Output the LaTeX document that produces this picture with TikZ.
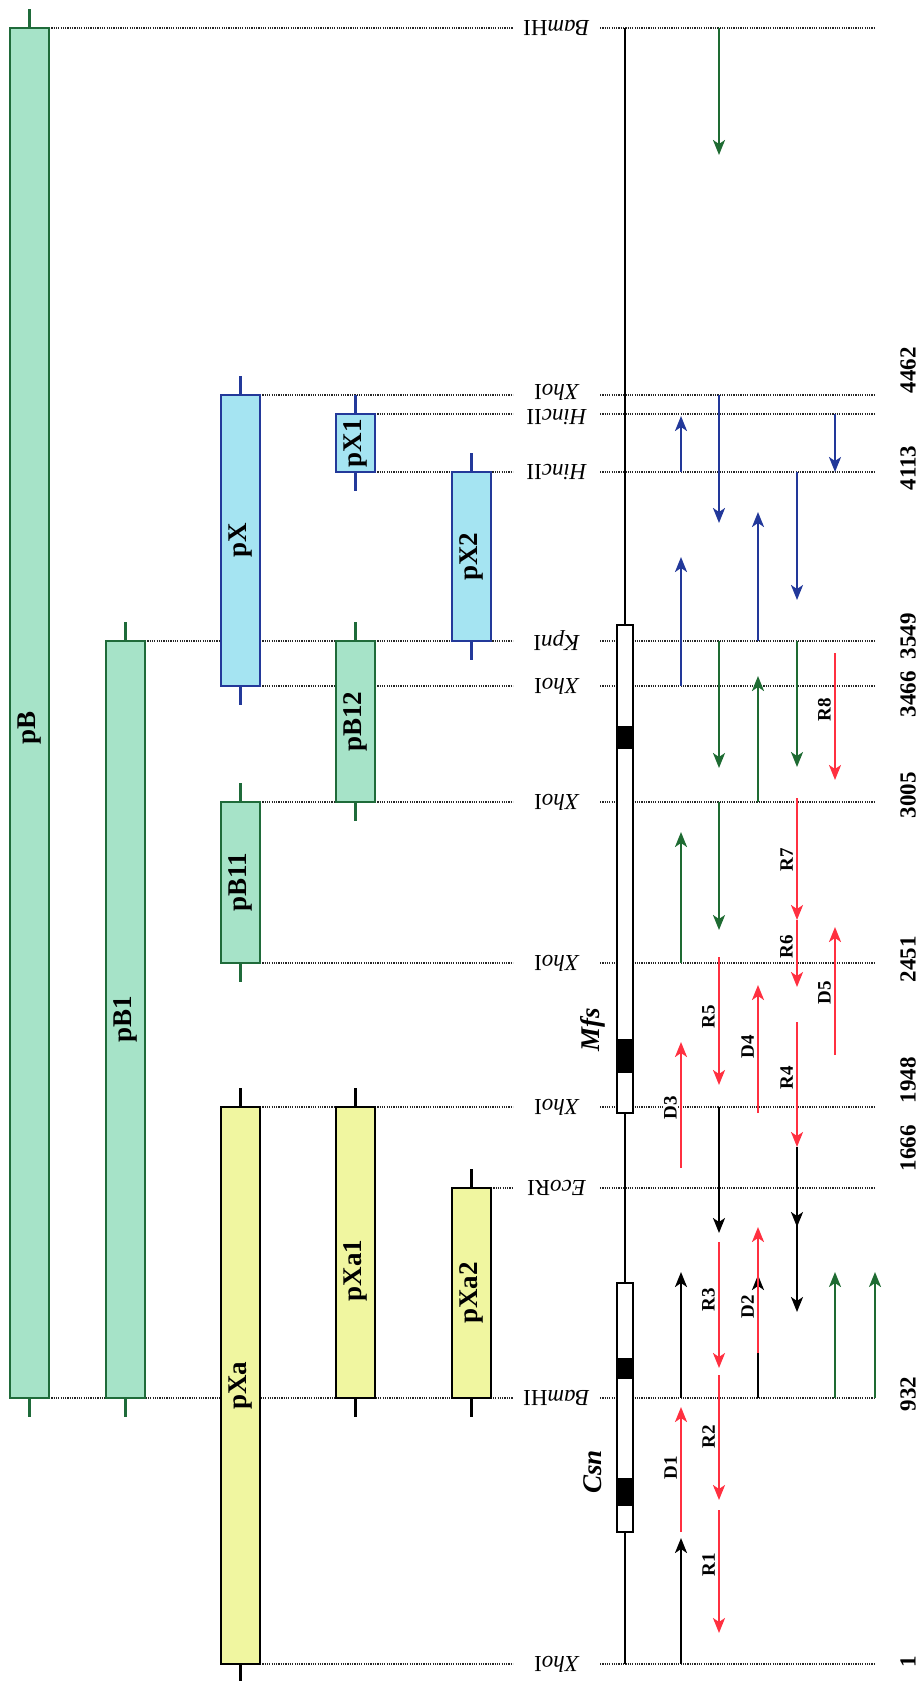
\documentclass[tikz,border=0pt]{standalone}
\usepackage{fontspec}
\setmainfont{Liberation Serif}
\usetikzlibrary{arrows.meta}
\definecolor{boxgreen}{HTML}{A6E3C8}
\definecolor{edgegreen}{HTML}{1F6B3A}
\definecolor{boxblue}{HTML}{A5E4F2}
\definecolor{edgeblue}{HTML}{23399A}
\definecolor{boxyellow}{HTML}{F0F6A0}
\definecolor{arrgreen}{HTML}{1E6B32}
\definecolor{arrblue}{HTML}{22389A}
\definecolor{arrred}{HTML}{FF3040}

\newcommand\clonebar[7]{%
  \node[clonebox, fill=#2, draw=#3, minimum height={(#6-#5)*1pt}] (#1) at (#4,#5) {};
  \draw[line width=3pt, #3] (#1.north) -- ++(0,-19);
  \draw[line width=3pt, #3] (#1.south) -- ++(0,19);}
\newcommand\site[5]{%
  \coordinate (#1a) at (#3,#2);
  \coordinate (#1l) at (513,#2);
  \coordinate (#1r) at (600,#2);
  \coordinate (#1b) at (875,#2);
  \draw[dotline] (#1a) -- (#1l);
  \draw[dotline] (#1r) -- (#1b);
  \node[sitelabel] (#1lab) at (556.5,#2+#5) {#4};}
\newcommand\arr[5]{%
  \coordinate (#1s) at (#2,#3);
  \coordinate (#1e) at (#2,#4);
  \draw[arrowline, #5] (#1s) -- (#1e);}
\newcommand\primer[3]{\node[primerlabel] (#1) at (#2,#3) {#1};}

\begin{document}
\begin{tikzpicture}[x=1pt, y=-1pt,
  clonebox/.style={rectangle, line width=2pt, minimum width=39pt, inner sep=0pt, outer sep=0pt, anchor=north},
  boxlabel/.style={rotate=90, font=\bfseries\fontsize{27}{27}\selectfont},
  dotline/.style={line width=1.6pt, black!85, dash pattern=on 1.2pt off 1.1pt},
  sitelabel/.style={rotate=180, inner sep=0pt, font=\fontsize{23}{23}\selectfont},
  numlabel/.style={rotate=90, font=\bfseries\fontsize{23}{23}\selectfont},
  genebox/.style={rectangle, draw=black, fill=white, line width=2pt, minimum width=16pt, inner sep=0pt, outer sep=0pt, anchor=north},
  exon/.style={rectangle, fill=black, minimum width=16pt, inner sep=0pt, anchor=north},
  genelabel/.style={rotate=90, font=\bfseries\itshape\fontsize{27}{27}\selectfont},
  arrowline/.style={line width=2.2pt, -{Stealth[length=15pt,width=12pt,inset=4pt]}},
  primerlabel/.style={rotate=90, anchor=south, fill=white, inner sep=1pt, font=\bfseries\fontsize{19}{19}\selectfont}
]
\useasboundingbox (0,0) rectangle (920,1681);

% restriction sites (dotted lines + labels)
\site{sbamtop}{28}{49}{\textit{Bam}HI}{0}
\site{s4462}{395}{260}{\textit{Xho}I}{-3}
\site{sh1}{414}{375}{\textit{Hinc}II}{3}
\site{sh2}{472}{375}{\textit{Hinc}II}{0}
\site{skpn}{641}{145}{\textit{Kpn}I}{0}
\site{s3466}{686}{260}{\textit{Xho}I}{0}
\site{s3005}{802}{260}{\textit{Xho}I}{0}
\site{s2451}{963}{260}{\textit{Xho}I}{0}
\site{s1948}{1107}{260}{\textit{Xho}I}{0}
\site{seco}{1188}{491}{\textit{Eco}RI}{0}
\site{s932}{1398}{49}{\textit{Bam}HI}{0}
\site{s1}{1664}{260}{\textit{Xho}I}{0}

% coordinates (numbers)
\node[numlabel] (n4462) at (908,370) {4462};
\node[numlabel] (n4113) at (908,468) {4113};
\node[numlabel] (n3549) at (908,636) {3549};
\node[numlabel] (n3466) at (908,694) {3466};
\node[numlabel] (n3005) at (908,795) {3005};
\node[numlabel] (n2451) at (908,959) {2451};
\node[numlabel] (n1948) at (908,1080) {1948};
\node[numlabel] (n1666) at (908,1148) {1666};
\node[numlabel] (n932) at (908,1394) {932};
\node[numlabel] (n1) at (908,1662) {1};

% clones
\clonebar{pB}{boxgreen}{edgegreen}{29.5}{28}{1398}{}
\clonebar{pBone}{boxgreen}{edgegreen}{125}{641}{1398}{}
\clonebar{pXa}{boxyellow}{black}{240.5}{1107}{1664}{}
\clonebar{pXaone}{boxyellow}{black}{355.5}{1107}{1398}{}
\clonebar{pXatwo}{boxyellow}{black}{471}{1188}{1398}{}
\clonebar{pX}{boxblue}{edgeblue}{240.5}{395}{686}{}
\clonebar{pXone}{boxblue}{edgeblue}{355.5}{414}{472}{}
\clonebar{pXtwo}{boxblue}{edgeblue}{471}{472}{641}{}
\clonebar{pBtwelve}{boxgreen}{edgegreen}{355.5}{641}{802}{}
\clonebar{pBeleven}{boxgreen}{edgegreen}{240.5}{802}{963}{}
\node[boxlabel] (lpB) at ([yshift=-15]pB.center) {pB};
\node[boxlabel] (lpB1) at (pBone.center) {pB1};
\node[boxlabel] (lpXa) at (pXa.center) {pXa};
\node[boxlabel] (lpXa1) at ([yshift=-18]pXaone.center) {pXa1};
\node[boxlabel] (lpXa2) at (pXatwo.center) {pXa2};
\node[boxlabel] (lpX) at (pX.center) {pX};
\node[boxlabel] (lpX1) at (pXone.center) {pX1};
\node[boxlabel] (lpX2) at (pXtwo.center) {pX2};
\node[boxlabel] (lpB12) at (pBtwelve.center) {pB12};
\node[boxlabel] (lpB11) at (pBeleven.center) {pB11};

% genomic line and genes
\coordinate (ltop) at (625,28);
\coordinate (lbot) at (625,1664);
\draw[line width=2pt] (ltop) -- (lbot);
\node[genebox, minimum height=488pt] (mfs) at (625,625) {};
\node[exon, minimum height=23pt] (mfsex1) at (625,726) {};
\node[exon, minimum height=34pt] (mfsex2) at (625,1039) {};
\node[genebox, minimum height=249pt] (csn) at (625,1283) {};
\node[exon, minimum height=21pt] (csnex1) at (625,1358) {};
\node[exon, minimum height=28pt] (csnex2) at (625,1478) {};
\node[genelabel] (lmfs) at (593,1030) {Mfs};
\node[genelabel] (lcsn) at (593,1472) {Csn};

% column 1
\arr{a11}{681}{1664}{1538}{black}
\arr{a12}{681}{1532}{1407}{arrred}
\arr{a13}{681}{1398}{1272}{black}
\arr{a14}{681}{1168}{1042}{arrred}
\arr{a15}{681}{963}{832}{arrgreen}
\arr{a16}{681}{686}{557}{arrblue}
\arr{a17}{681}{472}{416}{arrblue}
% column 2
\arr{a21}{719}{1510}{1633}{arrred}
\arr{a22}{719}{1375}{1500}{arrred}
\arr{a23}{719}{1242}{1368}{arrred}
\arr{a24}{719}{1107}{1233}{black}
\arr{a25}{719}{957}{1085}{arrred}
\arr{a26}{719}{802}{930}{arrgreen}
\arr{a27}{719}{641}{768}{arrgreen}
\arr{a28}{719}{395}{523}{arrblue}
\arr{a29}{719}{28}{155}{arrgreen}
% column 3
\arr{a31}{758}{1398}{1275}{black}
\arr{a32}{758}{1353}{1227}{arrred}
\arr{a33}{758}{1113}{985}{arrred}
\arr{a34}{758}{802}{676}{arrgreen}
\arr{a35}{758}{641}{512}{arrblue}
% column 4
\arr{a41}{797}{1147}{1312}{black}
\arr{a42}{797}{1147}{1227}{black}
\arr{a43}{797}{1022}{1147}{arrred}
\arr{a44}{797}{798}{920}{arrred}
\arr{a45}{797}{920}{987}{arrred}
\arr{a46}{797}{641}{767}{arrgreen}
\arr{a47}{797}{472}{600}{arrblue}
% column 5
\arr{a51}{835}{1398}{1272}{arrgreen}
\arr{a52}{835}{1055}{927}{arrred}
\arr{a53}{835}{653}{780}{arrred}
\arr{a54}{835}{414}{472}{arrblue}
% column 6
\arr{a61}{875}{1398}{1272}{arrgreen}

% primer labels
\primer{D1}{678}{1468}
\primer{D3}{678}{1108}
\primer{R1}{716}{1565}
\primer{R2}{716}{1437}
\primer{R3}{716}{1300}
\primer{R5}{716}{1017}
\primer{D2}{755}{1307}
\primer{D4}{755}{1047}
\primer{R4}{794}{1078}
\primer{R7}{794}{860}
\primer{R6}{794}{947}
\primer{D5}{832}{993}
\primer{R8}{832}{710}
\end{tikzpicture}
\end{document}
